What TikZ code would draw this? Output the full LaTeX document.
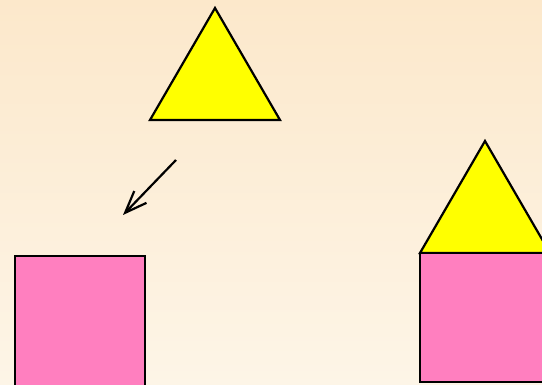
\documentclass[tikz,border=0pt]{standalone}
\usetikzlibrary{arrows.meta}
\definecolor{bgtop}{HTML}{FCE8CB}
\definecolor{bgbot}{HTML}{FDF5E7}
\definecolor{tri}{HTML}{FFFF00}
\definecolor{sq}{HTML}{FF7FBF}
\begin{document}
\begin{tikzpicture}[x=1pt,y=-1pt,
  shapeline/.style={draw=black,line width=2.2pt,line join=miter},
  trishape/.style={shapeline,fill=tri},
  sqshape/.style={shapeline,fill=sq},
  arrowline/.style={draw=black,line width=2.2pt,-{Straight Barb[length=22pt,width=17pt,line width=2.2pt]}}]
\useasboundingbox (0,0) rectangle (542,385);
\shade[top color=bgtop,bottom color=bgbot] (0,0) rectangle (542,385);
\begin{scope}
\clip (0,0) rectangle (542,385);
% top triangle
\path[trishape] (215,8) -- (280,120) -- (150,120) -- cycle;
% left square
\path[sqshape] (15,256) rectangle (145,386);
% right house
\path[trishape] (485,141) -- (550,253) -- (420,253) -- cycle;
\path[sqshape] (420,253) rectangle (550,382);
% arrow
\coordinate (a1) at (176,160);
\coordinate (a2) at (123,215);
\draw[arrowline] (a1) -- (a2);
\end{scope}
\end{tikzpicture}
\end{document}
